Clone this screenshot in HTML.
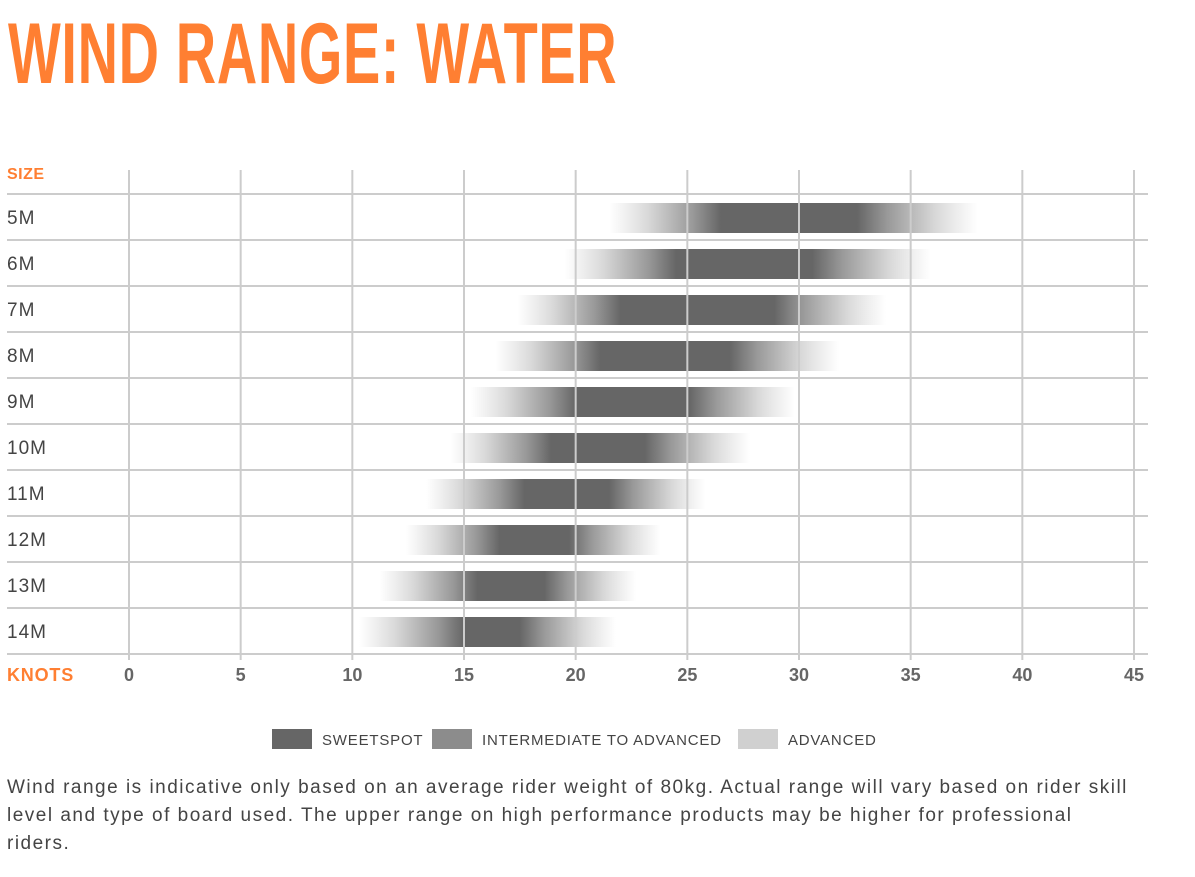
<!DOCTYPE html>
<html><head><meta charset="utf-8"><style>
body{margin:0;background:#fff;width:1195px;height:877px;overflow:hidden;font-family:"Liberation Sans",sans-serif;}
#title{position:absolute;left:8px;top:4px;font-family:"Liberation Sans Narrow","Liberation Sans",sans-serif;font-weight:bold;font-size:86px;color:#ff7f32;letter-spacing:1px;transform:scaleX(0.65);transform-origin:left;white-space:nowrap;line-height:100px;}
#note{position:absolute;left:7px;top:774px;width:1132px;font-size:19px;letter-spacing:1.5px;line-height:28px;color:#444;}
</style></head><body>
<div id="title">WIND RANGE: WATER</div>
<svg id="chart" width="1195" height="770" style="position:absolute;left:0;top:0"></svg>
<div id="note">Wind range is indicative only based on an average rider weight of 80kg. Actual range will vary based on rider skill level and type of board used. The upper range on high performance products may be higher for professional riders.</div>
<script>
const sizes=["5M","6M","7M","8M","9M","10M","11M","12M","13M","14M"];
const rangeStart=[21.5,19.5,17.4,16.4,15.3,14.4,13.3,12.4,11.2,10.3];
const sweetStart=[26.5,24.5,22,21.1,20,18.9,17.7,16.6,15.6,15];
const sweetEnd=[32.6,30.6,28.9,26.9,25.1,23.1,21.5,19.7,18.6,17.5];
const rangeEnd=[38,35.9,33.9,31.8,29.8,27.8,25.8,23.8,22.7,21.8];
const ticks=[0,5,10,15,20,25,30,35,40,45];
const legendLabels=["SWEETSPOT","INTERMEDIATE TO ADVANCED","ADVANCED"];
const legendColors=["#666666","#8c8c8c","#d0d0d0"];
const NS="http://www.w3.org/2000/svg";
const svg=document.getElementById('chart');
const x=v=>129+v*(1134-129)/45;
const rowTop=i=>194+i*46;
function mk(t,a,p){const e=document.createElementNS(NS,t);for(const k in a)e.setAttribute(k,a[k]);(p||svg).appendChild(e);return e;}
const defs=mk('defs',{});
sizes.forEach((s,i)=>{
  const x0=x(rangeStart[i]),x1=x(rangeEnd[i]),a=x(sweetStart[i]),b=x(sweetEnd[i]);
  const w=x1-x0;
  const g=mk('linearGradient',{id:'g'+i,x1:0,x2:1,y1:0,y2:0},defs);
  const st=(p,c,o)=>mk('stop',{offset:Math.max(0,Math.min(1,p)),'stop-color':c,'stop-opacity':o},g);
  const l=(a-x0)/w,r=(x1-b)/w;
  st(0,'#ddd',0);st(l*0.35,'#d8d8d8',1);st(l*0.75,'#999',1);st(l,'#666',1);
  st(1-r,'#666',1);st(1-r*0.75,'#999',1);st(1-r*0.35,'#d8d8d8',1);st(1,'#ddd',0);
  const rect=mk('rect',{x:x0,y:rowTop(i)+9,width:w,height:30,fill:'url(#g'+i+')'});
  
  
});
ticks.forEach(t=>{
  const l=mk('line',{x1:x(t),x2:x(t),y1:170,y2:660,stroke:'#ccc','stroke-width':2});
  
  
  const tx=mk('text',{x:x(t),y:681,'text-anchor':'middle','font-size':18,'font-weight':'bold',fill:'#666'});
  tx.textContent=t;
  
  
});
for(let i=0;i<=10;i++){
  const l=mk('line',{x1:7,x2:1148,y1:rowTop(i),y2:rowTop(i),stroke:'#ccc','stroke-width':2});
  
  
}
sizes.forEach((s,i)=>{
  const t=mk('text',{x:7,y:rowTop(i)+30,'font-size':19,fill:'#444','letter-spacing':1});
  t.textContent=s;
  
  
});
let t=mk('text',{x:7,y:179,'font-size':16,'font-weight':'bold',fill:'#ff7f32','letter-spacing':0.5});t.textContent='SIZE';


t=mk('text',{x:7,y:681,'font-size':18,'font-weight':'bold',fill:'#ff7f32','letter-spacing':0.8});t.textContent='KNOTS';


const lx=[272,432,738];
legendLabels.forEach((lab,i)=>{
  const r=mk('rect',{x:lx[i],y:729,width:40,height:20,fill:legendColors[i]});
  
  
  const tt=mk('text',{x:lx[i]+50,y:745,'font-size':15,fill:'#444','letter-spacing':0.8});
  tt.textContent=lab;
  
  
});
</script>
</body></html>
